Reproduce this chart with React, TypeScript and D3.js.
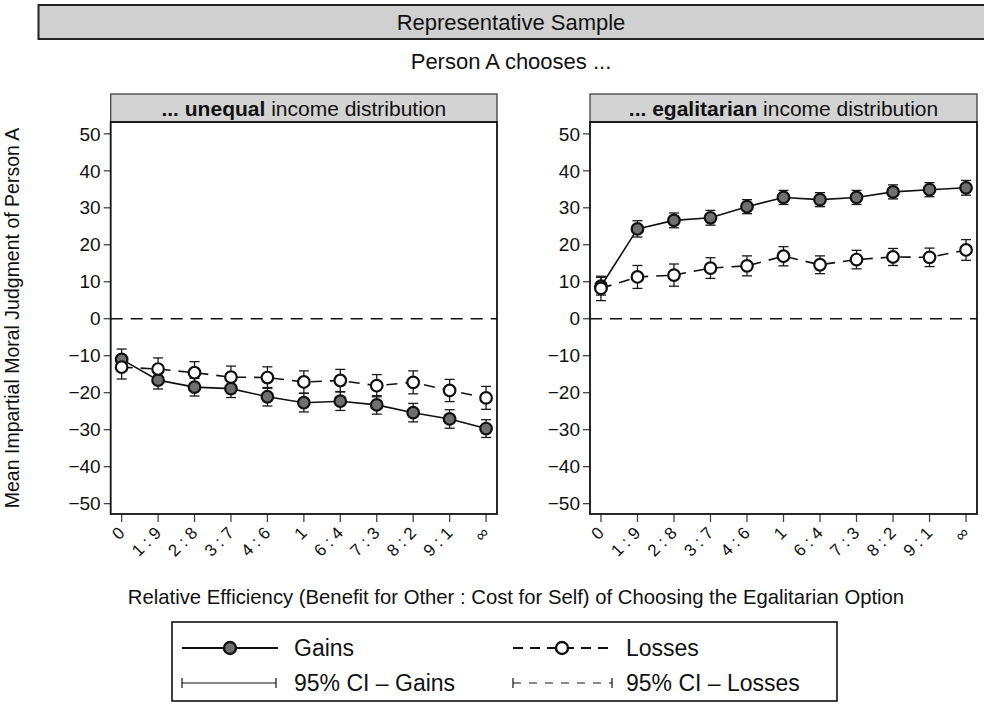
import React from "react";
import * as d3 from "d3";

const categories = ["0", "1 : 9", "2 : 8", "3 : 7", "4 : 6", "1", "6 : 4", "7 : 3", "8 : 2", "9 : 1", "\u221E"];
const yTicks = [50, 40, 30, 20, 10, 0, -10, -20, -30, -40, -50];

const unequalGains = [-11.0, -16.6, -18.5, -18.9, -21.1, -22.7, -22.3, -23.3, -25.4, -27.1, -29.7];
const unequalGainsCI = [2.8, 2.4, 2.4, 2.4, 2.5, 2.5, 2.5, 2.5, 2.5, 2.5, 2.4];
const unequalLosses = [-13.1, -13.6, -14.6, -15.8, -15.9, -17.1, -16.7, -18.1, -17.2, -19.4, -21.4];
const unequalLossesCI = [3.2, 3.0, 3.0, 3.0, 2.9, 3.0, 3.0, 3.0, 3.1, 3.0, 3.1];

const egalGains = [8.8, 24.3, 26.6, 27.3, 30.3, 32.8, 32.2, 32.8, 34.3, 34.9, 35.4];
const egalGainsCI = [2.4, 2.2, 2.0, 2.0, 1.9, 1.9, 1.9, 1.9, 1.9, 1.9, 2.0];
const egalLosses = [8.2, 11.3, 11.8, 13.7, 14.3, 16.9, 14.6, 16.0, 16.7, 16.6, 18.6];
const egalLossesCI = [3.3, 3.1, 3.0, 2.8, 2.7, 2.6, 2.4, 2.5, 2.3, 2.5, 2.8];

const FONT = "'Liberation Sans', Arial, Helvetica, sans-serif";
const GAIN_FILL = "#6f6f6f";

type PanelProps = {
  x0: number;
  x1: number;
  bold: string;
  gains: number[];
  gainsCI: number[];
  losses: number[];
  lossesCI: number[];
};

const TOP = 122;
const BOTTOM = 514;
const HEADER_TOP = 94;

function Panel({ x0, x1, bold, gains, gainsCI, losses, lossesCI }: PanelProps) {
  const x = d3.scaleLinear().domain([-0.3, categories.length - 1 + 0.3]).range([x0, x1]);
  const y = d3.scaleLinear().domain([-52.8, 53.2]).range([BOTTOM, TOP]);
  const idx = d3.range(categories.length);
  const line = d3
    .line<number>()
    .x((_, i) => x(i))
    .y((d) => y(d));
  const cap = 5;
  const ci = (vals: number[], cis: number[], key: string) =>
    idx.map((i) => (
      <g key={key + i} stroke="#1a1a1a" strokeWidth={1.3}>
        <line x1={x(i)} x2={x(i)} y1={y(vals[i] - cis[i])} y2={y(vals[i] + cis[i])} />
        <line x1={x(i) - cap} x2={x(i) + cap} y1={y(vals[i] - cis[i])} y2={y(vals[i] - cis[i])} />
        <line x1={x(i) - cap} x2={x(i) + cap} y1={y(vals[i] + cis[i])} y2={y(vals[i] + cis[i])} />
      </g>
    ));
  return (
    <g>
      {/* header */}
      <rect x={x0} y={HEADER_TOP} width={x1 - x0} height={TOP - HEADER_TOP} fill="#d3d3d3" stroke="#333" strokeWidth={1.2} />
      <text x={(x0 + x1) / 2} y={HEADER_TOP + 21.5} textAnchor="middle" fontSize={21} fontFamily={FONT} fill="#111">
        <tspan fontWeight="bold">...  {bold}</tspan>
        <tspan> income distribution</tspan>
      </text>
      {/* zero line */}
      <line x1={x0} x2={x1} y1={y(0)} y2={y(0)} stroke="#111" strokeWidth={1.6} strokeDasharray="12,8" />
      {/* y ticks */}
      {yTicks.map((t) => (
        <g key={"yt" + t}>
          <line x1={x0 - 7} x2={x0} y1={y(t)} y2={y(t)} stroke="#444" strokeWidth={1.3} />
          <text x={x0 - 10} y={y(t) + 6.7} textAnchor="end" fontSize={19} fontFamily={FONT} fill="#111">
            {t < 0 ? "\u2212" + Math.abs(t) : String(t)}
          </text>
        </g>
      ))}
      {/* x ticks */}
      {idx.map((i) => (
        <g key={"xt" + i}>
          <line x1={x(i)} x2={x(i)} y1={BOTTOM} y2={BOTTOM + 8} stroke="#444" strokeWidth={1.3} />
          <text
            transform={`translate(${x(i) + 4},${BOTTOM + 20}) rotate(-45)`}
            textAnchor="end"
            fontSize={17}
            fontFamily={FONT}
            fill="#111"
          >
            {categories[i]}
          </text>
        </g>
      ))}
      {/* CI */}
      {ci(losses, lossesCI, "lci")}
      {ci(gains, gainsCI, "gci")}
      {/* lines */}
      <path d={line(losses) || ""} fill="none" stroke="#111" strokeWidth={1.6} strokeDasharray="11,8" />
      <path d={line(gains) || ""} fill="none" stroke="#111" strokeWidth={1.6} />
      {/* markers */}
      {idx.map((i) => (
        <circle key={"g" + i} cx={x(i)} cy={y(gains[i])} r={5.8} fill={GAIN_FILL} stroke="#111" strokeWidth={2.2} />
      ))}
      {idx.map((i) => (
        <circle key={"l" + i} cx={x(i)} cy={y(losses[i])} r={5.8} fill="#fff" stroke="#111" strokeWidth={2.2} />
      ))}
      {/* frame */}
      <rect x={x0} y={TOP} width={x1 - x0} height={BOTTOM - TOP} fill="none" stroke="#111" strokeWidth={1.8} />
    </g>
  );
}

export default function App() {
  const W = 984;
  const H = 705;
  return (
    <svg width={W} height={H} style={{ position: "absolute", left: 0, top: 0, background: "#fff" }} fontFamily={FONT}>
      <rect x={0} y={0} width={W} height={H} fill="#fff" />
      {/* title bar */}
      <rect x={38.5} y={5} width={960} height={34} fill="#d0d0d0" stroke="#222" strokeWidth={2} />
      <text x={511} y={30} textAnchor="middle" fontSize={22} fill="#111">
        Representative Sample
      </text>
      <text x={511} y={69} textAnchor="middle" fontSize={22} fill="#111">
        Person A chooses ...
      </text>
      <Panel x0={110.7} x1={497} bold="unequal" gains={unequalGains} gainsCI={unequalGainsCI} losses={unequalLosses} lossesCI={unequalLossesCI} />
      <Panel x0={590} x1={977} bold="egalitarian" gains={egalGains} gainsCI={egalGainsCI} losses={egalLosses} lossesCI={egalLossesCI} />
      {/* y axis title */}
      <text transform={`translate(19,318) rotate(-90)`} textAnchor="middle" fontSize={19.5} fill="#111">
        Mean Impartial Moral Judgment of Person A
      </text>
      {/* x axis title */}
      <text x={516} y={604} textAnchor="middle" fontSize={20.3} fill="#111">
        Relative Efficiency (Benefit for Other : Cost for Self) of Choosing the Egalitarian Option
      </text>
      {/* legend */}
      <g>
        <rect x={172} y={622} width={665} height={79} fill="#fff" stroke="#111" strokeWidth={1.6} />
        <line x1={182} x2={278} y1={648} y2={648} stroke="#111" strokeWidth={2} />
        <circle cx={230} cy={648} r={6} fill={GAIN_FILL} stroke="#111" strokeWidth={2.4} />
        <text x={294} y={656} fontSize={23} fill="#111">Gains</text>
        <line x1={513} x2={612} y1={648} y2={648} stroke="#111" strokeWidth={2} strokeDasharray="10,7" />
        <circle cx={562} cy={648} r={6} fill="#fff" stroke="#111" strokeWidth={2.4} />
        <text x={626} y={656} fontSize={23} fill="#111">Losses</text>
        <line x1={182} x2={276} y1={683} y2={683} stroke="#111" strokeWidth={1.2} />
        <line x1={182} x2={182} y1={678} y2={688} stroke="#111" strokeWidth={1.2} />
        <line x1={276} x2={276} y1={678} y2={688} stroke="#111" strokeWidth={1.2} />
        <text x={294} y={691} fontSize={23} fill="#111">95% CI – Gains</text>
        <line x1={513} x2={612} y1={683} y2={683} stroke="#111" strokeWidth={1.2} strokeDasharray="8,8" />
        <line x1={513} x2={513} y1={678} y2={688} stroke="#111" strokeWidth={1.2} />
        <line x1={612} x2={612} y1={678} y2={688} stroke="#111" strokeWidth={1.2} />
        <text x={626} y={691} fontSize={23} fill="#111">95% CI – Losses</text>
      </g>
    </svg>
  );
}
